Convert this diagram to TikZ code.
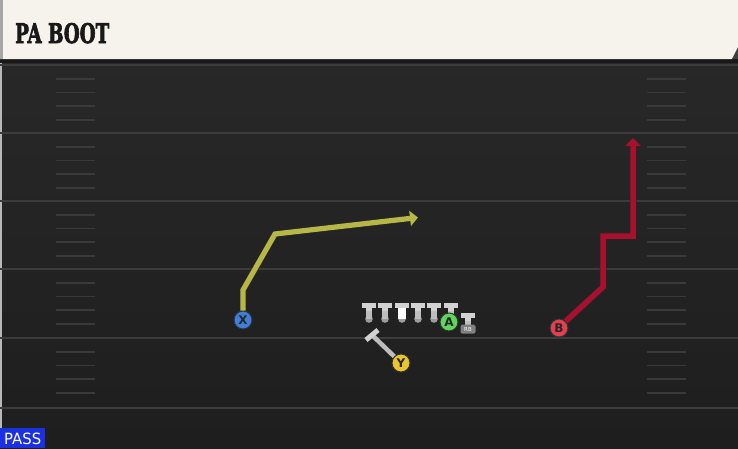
\documentclass[tikz,border=0pt]{standalone}
\usepackage{fontspec}
\setmainfont{DejaVu Serif}
\setsansfont{DejaVu Sans}
\newfontfamily\titlefont{DejaVu Serif}[BoldFeatures={FakeBold=3}]
\usetikzlibrary{arrows.meta}
\definecolor{hdr}{HTML}{F5F3EC}
\definecolor{fieldtop}{HTML}{282828}
\definecolor{fieldbot}{HTML}{1E1E1E}
\definecolor{yardline}{HTML}{3C3C3C}
\definecolor{hashc}{HTML}{3A3A3A}
\definecolor{xblue}{HTML}{3F7FDC}
\definecolor{yyel}{HTML}{E8C62C}
\definecolor{agreen}{HTML}{5ED65A}
\definecolor{bred}{HTML}{E2404F}
\definecolor{yroute}{HTML}{B7B748}
\definecolor{rroute}{HTML}{A8112E}
\definecolor{passblue}{HTML}{1B30E0}
\definecolor{tbar}{HTML}{D2D2D2}
\definecolor{tstem}{HTML}{BDBDBD}
\definecolor{tdot}{HTML}{9C9C9C}
\tikzset{
  player/.style={circle, draw=black!80, line width=1pt, minimum size=18pt, inner sep=0pt,
    font=\sffamily\bfseries\fontsize{12}{12}\selectfont, text=black!85},
  routeout/.style={line width=7pt, draw=black!85, line join=miter},
  yellowroute/.style={line width=5.2pt, draw=yroute, line join=miter, -{Triangle[length=8pt,width=15pt]}},
  redroute/.style={line width=5.5pt, draw=rroute, line join=miter, -{Triangle[length=8pt,width=15pt]}},
  yardln/.style={line width=2pt, draw=yardline},
  hashln/.style={line width=1.5pt, draw=hashc},
  lineman/.pic={
    \fill[tdot] (0,16) circle (3.8);
    \fill[tstem] (-3.2,7) rectangle (3.2,16);
    \fill[tbar] (-7,0) rectangle (7,5);
    \fill[tbar] (-3.2,5) rectangle (3.2,8);
  },
  centerman/.pic={
    \fill[tdot] (0,16) circle (3.8);
    \fill[white] (-3.8,5) rectangle (3.8,16);
    \fill[tbar] (-7,0) rectangle (7,5);
  }
}
\begin{document}
\begin{tikzpicture}[x=1pt,y=-1pt]
\useasboundingbox (0,0) rectangle (738,448);
% field
\shade[top color=fieldtop, bottom color=fieldbot] (0,58) rectangle (738,448);
\fill[black!90] (0,59) rectangle (738,63);
\fill[black!70!white!40] (0,63) rectangle (2,448);
% yard lines
\foreach \yy in {65,133,201,269,338,408} {
  \draw[yardln] (0,\yy) -- (738,\yy);
}
\foreach \yy in {65,133,201,269,338} {
  \foreach \oo in {14,27.5,41,55} {
    \draw[hashln] (56,\yy+\oo) -- (95,\yy+\oo);
    \draw[hashln] (647,\yy+\oo) -- (686,\yy+\oo);
  }
}
% header
\fill[hdr] (0,0) -- (738,0) -- (738,47) -- (732,59) -- (0,59) -- cycle;
\fill[black!75] (732,59) -- (738,47) -- (738,59) -- cycle;
\fill[black!35] (0,0) rectangle (3,59);
\node[anchor=base west, inner sep=0pt, text=black!90] (title) at (15,43)
  {\resizebox{94pt}{20pt}{\titlefont\bfseries PA BOOT}};
% PASS label
\node[anchor=north west, fill=passblue, minimum width=45pt, minimum height=20pt, inner sep=0pt] (pass) at (0,428) {};
\node[anchor=base west, inner sep=0pt, text=white] (passtxt) at (4,444)
  {\resizebox{37pt}{11.5pt}{\sffamily PASS}};
% offensive line
\pic at (369,303) {lineman};
\pic at (385,303) {lineman};
\pic at (402,303) {centerman};
\pic at (418,303) {lineman};
\pic at (434,303) {lineman};
\pic at (451,303) {lineman};
\pic at (468,313) {lineman};
\node[fill=black!50, rounded corners=1.5pt, minimum width=15pt, minimum height=9pt, inner sep=0pt,
  font=\sffamily\fontsize{5.5}{5.5}\selectfont, text=white] (rb) at (468,329) {RB};
% players
\node[player, fill=xblue] (X) at (243,320) {X};
\node[player, fill=agreen] (A) at (449,322) {A};
\node[player, fill=bred] (B) at (559,328) {B};
% X route
\coordinate (x1) at (243,290);
\coordinate (x2) at (275,234);
\coordinate (x3) at (418,217.5);
\coordinate (x3o) at (411,218.3);
\draw[routeout] (X.north) -- (x1) -- (x2) -- (x3o);
\draw[yellowroute] (X.north) -- (x1) -- (x2) -- (x3);
% B route
\coordinate (b1) at (603,287);
\coordinate (b2) at (603,236);
\coordinate (b3) at (633,236);
\coordinate (b4) at (633,138);
\coordinate (b4o) at (633,146);
\draw[routeout] (B.north east) -- (b1) -- (b2) -- (b3) -- (b4o);
\draw[redroute] (B.north east) -- (b1) -- (b2) -- (b3) -- (b4);
% Y block
\coordinate (yb) at (372,335);
\coordinate (yb1) at (366,340);
\coordinate (yb2) at (378,330);
\draw[line width=4.5pt, draw=tstem] (401,363) -- (yb);
\draw[line width=5pt, draw=tbar] (yb1) -- (yb2);
\node[player, fill=yyel] (Y) at (401,363) {Y};
\end{tikzpicture}
\end{document}
